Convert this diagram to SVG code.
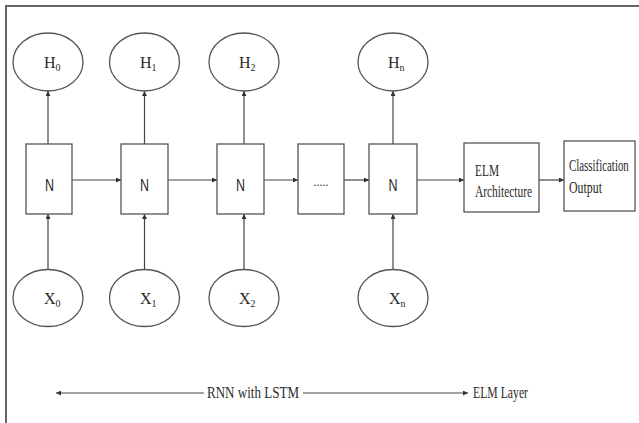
<svg xmlns="http://www.w3.org/2000/svg" width="639" height="423" viewBox="0 0 639 423">
<defs>
<marker id="ah" viewBox="0 0 10 10" refX="10" refY="5" markerWidth="5" markerHeight="5" orient="auto" markerUnits="userSpaceOnUse">
<path d="M0,0 L10,5 L0,10 z" fill="#333"/>
</marker>
<style>
.el{fill:#fff;stroke:#555;stroke-width:1.3}
.bx{fill:#fff;stroke:#555;stroke-width:1.3}
.ln{stroke:#444;stroke-width:1.2;fill:none;marker-end:url(#ah)}
.t{font-family:"Liberation Serif","Times New Roman",serif;fill:#2a2a2a;font-size:17px}
.h{font-size:16px}
.c{text-anchor:middle}
.s{font-size:10px}
.n{font-family:"Liberation Sans",Arial,sans-serif;fill:#2a2a2a;font-size:17px}
</style>
</defs>
<rect x="0" y="0" width="639" height="423" fill="#fff"/>
<path d="M6,423 L6,6 L639,6" fill="none" stroke="#666" stroke-width="2"/>

<g id="connectors">
<line class="ln" x1="72" y1="180" x2="121" y2="180"/>
<line class="ln" x1="168" y1="180" x2="217" y2="180"/>
<line class="ln" x1="264" y1="180" x2="298" y2="180"/>
<line class="ln" x1="344" y1="180" x2="369" y2="180"/>
<line class="ln" x1="417" y1="180" x2="464" y2="180"/>
<line class="ln" x1="539" y1="180" x2="564" y2="180"/>
<line class="ln" x1="48" y1="144" x2="48" y2="91"/>
<line class="ln" x1="144.5" y1="144" x2="144.5" y2="91"/>
<line class="ln" x1="244" y1="144" x2="244" y2="91"/>
<line class="ln" x1="393" y1="144" x2="393" y2="91"/>
<line class="ln" x1="48" y1="270" x2="48" y2="214"/>
<line class="ln" x1="144.5" y1="270" x2="144.5" y2="214"/>
<line class="ln" x1="244" y1="270" x2="244" y2="214"/>
<line class="ln" x1="393" y1="270" x2="393" y2="214"/>
<line class="ln" x1="204" y1="393" x2="56" y2="393"/>
<line class="ln" x1="303" y1="393" x2="468" y2="393"/>
</g>

<g id="H0"><ellipse class="el" cx="48" cy="62" rx="35" ry="29"/><text class="t h" x="44" y="68">H<tspan class="s" dy="3">0</tspan></text></g>
<g id="H1"><ellipse class="el" cx="144.5" cy="62" rx="35" ry="29"/><text class="t h" x="140" y="68">H<tspan class="s" dy="3">1</tspan></text></g>
<g id="H2"><ellipse class="el" cx="244" cy="62" rx="35" ry="29"/><text class="t h" x="239" y="68">H<tspan class="s" dy="3">2</tspan></text></g>
<g id="Hn"><ellipse class="el" cx="393" cy="62" rx="35" ry="29"/><text class="t h" x="388" y="68">H<tspan class="s" dy="3">n</tspan></text></g>

<g id="N0"><rect class="bx" x="26" y="144" width="46" height="70"/><text class="n" x="45" y="191" textLength="9" lengthAdjust="spacingAndGlyphs">N</text></g>
<g id="N1"><rect class="bx" x="121" y="144" width="47" height="70"/><text class="n" x="140" y="191" textLength="9" lengthAdjust="spacingAndGlyphs">N</text></g>
<g id="N2"><rect class="bx" x="217" y="144" width="47" height="70"/><text class="n" x="236" y="191" textLength="9" lengthAdjust="spacingAndGlyphs">N</text></g>
<g id="Ndots"><rect class="bx" x="298" y="144" width="46" height="70"/><text class="t c" x="321" y="186" style="font-size:12px">.....</text></g>
<g id="Nn"><rect class="bx" x="369" y="144" width="48" height="70"/><text class="n" x="388.5" y="191" textLength="9" lengthAdjust="spacingAndGlyphs">N</text></g>

<g id="ELM"><rect class="bx" x="464" y="143" width="75" height="69"/>
<text class="t" x="475" y="176" textLength="24" lengthAdjust="spacingAndGlyphs">ELM</text>
<text class="t" x="475" y="197" textLength="57" lengthAdjust="spacingAndGlyphs">Architecture</text></g>

<g id="Classification"><rect class="bx" x="564" y="141" width="71" height="70"/>
<text class="t" transform="translate(569,171) scale(0.68,1)" x="0" y="0" style="font-size:16px">Classification</text>
<text class="t" x="569" y="193" textLength="33" lengthAdjust="spacingAndGlyphs">Output</text></g>

<g id="X0"><ellipse class="el" cx="48" cy="298" rx="35" ry="28.5"/><text class="t h" x="44" y="304">X<tspan class="s" dy="3">0</tspan></text></g>
<g id="X1"><ellipse class="el" cx="144.5" cy="298" rx="35" ry="28.5"/><text class="t h" x="140" y="304">X<tspan class="s" dy="3">1</tspan></text></g>
<g id="X2"><ellipse class="el" cx="244" cy="298" rx="35" ry="28.5"/><text class="t h" x="239" y="304">X<tspan class="s" dy="3">2</tspan></text></g>
<g id="Xn"><ellipse class="el" cx="393" cy="298" rx="35" ry="28.5"/><text class="t h" x="389" y="304">X<tspan class="s" dy="3">n</tspan></text></g>

<g id="labels">
<text class="t" x="207" y="398" textLength="92" lengthAdjust="spacingAndGlyphs">RNN with LSTM</text>
<text class="t" x="473" y="398" textLength="55" lengthAdjust="spacingAndGlyphs">ELM Layer</text>
</g>
</svg>
